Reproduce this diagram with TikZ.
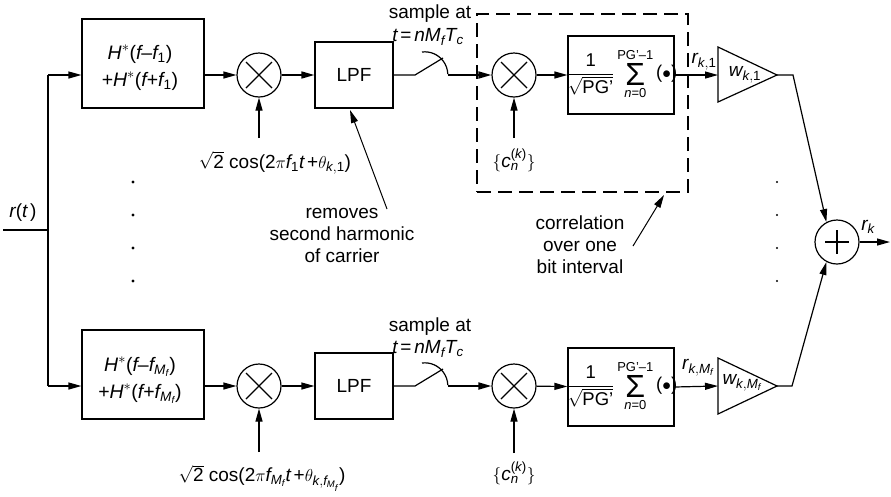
\documentclass[tikz,border=0pt]{standalone}
\usepackage{amsmath}
\usepackage{fontspec}
\setmainfont{Liberation Sans}
\usetikzlibrary{arrows.meta,calc}
\newcommand{\vi}[1]{\text{\itshape #1}}
\newcommand{\vu}[1]{\text{#1}}
\newcommand{\sumblk}{$\dfrac{\vu{1}}{\sqrt{\vu{PG’}}}\mathop{\vcenter{\hbox{\fontsize{32}{32}\selectfont Σ}}}\limits_{\vi{n}\vu{=0}}^{\vu{PG’–1}}\vu{(}{\bullet}\vu{)}$}
\begin{document}
\begin{tikzpicture}[x=1pt,y=-1pt,
  every node/.style={font=\fontsize{19}{22}\selectfont, inner sep=0pt},
  blk/.style={draw, line width=1.2pt, inner sep=0pt},
  mixbase/.style={draw, circle, minimum size=44pt, inner sep=0pt, line width=1.2pt},
  times/.style={mixbase, path picture={\draw[line width=1.2pt]
     ([shift={(-13pt,-13pt)}]path picture bounding box.center) -- ([shift={(13pt,13pt)}]path picture bounding box.center)
     ([shift={(-13pt,13pt)}]path picture bounding box.center) -- ([shift={(13pt,-13pt)}]path picture bounding box.center);}},
  plus/.style={mixbase, path picture={\draw[line width=1.4pt]
     ([shift={(-12pt,0pt)}]path picture bounding box.center) -- ([shift={(12pt,0pt)}]path picture bounding box.center)
     ([shift={(0pt,12pt)}]path picture bounding box.center) -- ([shift={(0pt,-12pt)}]path picture bounding box.center);}},
  arr/.style={-{Triangle[length=13pt,width=7pt]}, line width=1.2pt},
  ln/.style={line width=1.2pt},
  sumtext/.style={font=\fontsize{18.5}{20}\selectfont},
]
\useasboundingbox (0,0) rectangle (891,496);

% ---- input ----
\coordinate (inL) at (3,230);
\coordinate (inR) at (48,230);
\coordinate (vtop) at (48,75);
\coordinate (vbot) at (48,386);
\node (rt) at (23,213) {$\vi{r}\vu{(}\vi{t}\,\vu{)}$};
\draw[ln] (inL) -- (inR);
\draw[ln] (vtop) -- (vbot);

% ---- top branch ----
\node[blk, minimum width=122pt, minimum height=89pt] (h1) at (143,63.5) {};
\node[align=center, font=\fontsize{19.5}{27}\selectfont] (h1t) at (140,68)
  {$\vi{H}^{*}\vu{(}\vi{f}\vu{–}\vi{f}_{\vu{1}}\vu{)}$\\$\vu{+}\vi{H}^{*}\vu{(}\vi{f}\vu{+}\vi{f}_{\vu{1}}\vu{)}$};
\node[times] (m1) at (259,75) {};
\node[blk, minimum width=78pt, minimum height=66pt] (lpf1) at (354,75) {LPF};
\coordinate (cos1s) at (259,138);
\node (cos1) at (275,163) {$\sqrt{\vu{2}}\ \vu{cos}\vu{(}\vu{2}\pi\vi{f}_{\vu{1}}\vi{t}\,\vu{+}\theta_{\vi{k},\vu{1}}\vu{)}$};
\draw[arr] (vtop) -- (h1.west |- vtop);
\draw[arr] (h1.east |- m1) -- (m1);
\draw[arr, line width=1.6pt] (m1) -- (lpf1);
\draw[arr] (cos1s) -- (m1);

% sampler top
\coordinate (sw1a) at (415,75);
\coordinate (sw1b) at (443,58);
\coordinate (sw1c) at (448,75);
\draw[ln] (lpf1.east) -- (sw1a) -- (sw1b);
\draw[ln] (422,52) arc[start angle=97, end angle=2, radius=23pt];
\node (samp1) at (430,14) {sample at};
\node (tn1) at (428,37) {$\vi{t}\,\vu{=}\,\vi{nM}_{\vi{f}}\vi{T}_{\vi{c}}$};
\node[times] (c1) at (514,75) {};
\draw[arr, line width=1.8pt] (sw1c) -- (c1);
\coordinate (ck1s) at (514,138);
\node (ck1) at (514,160) {$\{\vi{c}_{\vi{n}}^{\vu{(}\vi{k}\vu{)}}\}$};
\draw[arr] (ck1s) -- (c1);
\node[blk, minimum width=106pt, minimum height=78pt] (s1) at (621,75) {};
\node[sumtext] (s1t) at (622,74) {\sumblk};
\draw[arr] (c1) -- (s1);
\coordinate (w1in) at (718,75);
\coordinate (w1out) at (777,75);
\draw[ln, line join=miter] (718,47) -- (w1out) -- (718,102) -- cycle;
\node (w1) at (745,75) {$\vi{w}_{\vi{k},\vu{1}}$};
\node (r1) at (704,62) {$\vi{r}_{\vi{k},\vu{1}}$};
\draw[arr] (s1.east) -- (w1in);

% ---- bottom branch ----
\node[blk, minimum width=122pt, minimum height=89pt] (h2) at (143,374.5) {};
\node[align=center, font=\fontsize{19.5}{27}\selectfont] (h2t) at (140,380)
  {$\vi{H}^{*}\vu{(}\vi{f}\vu{–}\vi{f}_{\vi{M}_{\vi{f}}}\vu{)}$\\$\vu{+}\vi{H}^{*}\vu{(}\vi{f}\vu{+}\vi{f}_{\vi{M}_{\vi{f}}}\vu{)}$};
\node[times] (m2) at (259,386) {};
\node[blk, minimum width=78pt, minimum height=66pt] (lpf2) at (354,386) {LPF};
\coordinate (cos2s) at (259,452);
\node (cos2) at (262,478) {$\sqrt{\vu{2}}\ \vu{cos}\vu{(}\vu{2}\pi\vi{f}_{\vi{M}_{\vi{f}}}\vi{t}\,\vu{+}\theta_{\vi{k},\vi{f}_{\vi{M}_{\vi{f}}}}\vu{)}$};
\draw[arr] (vbot) -- (h2.west |- vbot);
\draw[arr] (h2.east |- m2) -- (m2);
\draw[arr] (m2) -- (lpf2);
\draw[arr] (cos2s) -- (m2);

% sampler bottom
\coordinate (sw2a) at (415,386);
\coordinate (sw2b) at (443,369);
\coordinate (sw2c) at (448,386);
\draw[ln] (lpf2.east) -- (sw2a) -- (sw2b);
\draw[ln] (422,363) arc[start angle=97, end angle=2, radius=23pt];
\node (samp2) at (430,327) {sample at};
\node (tn2) at (428,349) {$\vi{t}\,\vu{=}\,\vi{nM}_{\vi{f}}\vi{T}_{\vi{c}}$};
\node[times] (c2) at (514,386) {};
\draw[arr, line width=1.8pt] (sw2c) -- (c2);
\coordinate (ck2s) at (514,453);
\node (ck2) at (514,473) {$\{\vi{c}_{\vi{n}}^{\vu{(}\vi{k}\vu{)}}\}$};
\draw[arr] (ck2s) -- (c2);
\node[blk, minimum width=106pt, minimum height=78pt] (s2) at (621,387) {};
\node[sumtext] (s2t) at (622,386) {\sumblk};
\draw[arr] (c2) -- (s2);
\coordinate (w2in) at (718,386);
\coordinate (w2out) at (777,386);
\draw[ln, line join=miter] (718,358) -- (w2out) -- (718,414) -- cycle;
\node (w2) at (742,383) {$\vi{w}_{\vi{k},\vi{M}_{\vi{f}}}$};
\node (r2) at (698,368) {$\vi{r}_{\vi{k},\vi{M}_{\vi{f}}}$};
\draw[arr] (s2.east) -- (w2in);

% ---- dashed correlation box ----
\node[draw, line width=1.2pt, dash pattern=on 14pt off 7pt, minimum width=211pt, minimum height=178pt] (corr) at (582.5,103) {};

% ---- combiner ----
\node[plus] (sum) at (837,242) {};
\coordinate (j1) at (793,75);
\coordinate (j2) at (792,386);
\draw[arr] (w1out) -- (j1) -- (sum.118);
\draw[arr] (w2out) -- (j2) -- (sum.242);
\coordinate (out) at (890,242);
\draw[arr] (sum.east) -- (out);
\node (rk) at (868,227) {$\vi{r}_{\vi{k}}$};

% ---- dots ----
\foreach \yy in {182,215,248,281} {
  \fill (133,\yy) circle (1.7pt);
  \fill (777,\yy) circle (1.2pt);
}

% ---- annotations ----
\node[align=center] (note1) at (342,235) {removes\\second harmonic\\of carrier};
\coordinate (n1s) at (387,209);
\coordinate (n1e) at (350,110);
\draw[arr, line width=1pt] (n1s) -- (n1e);
\node[align=center] (note2) at (580,245) {correlation\\over one\\bit interval};
\coordinate (n2s) at (633,246);
\coordinate (n2e) at (664,195);
\draw[arr, line width=1pt] (n2s) -- (n2e);
\end{tikzpicture}
\end{document}
